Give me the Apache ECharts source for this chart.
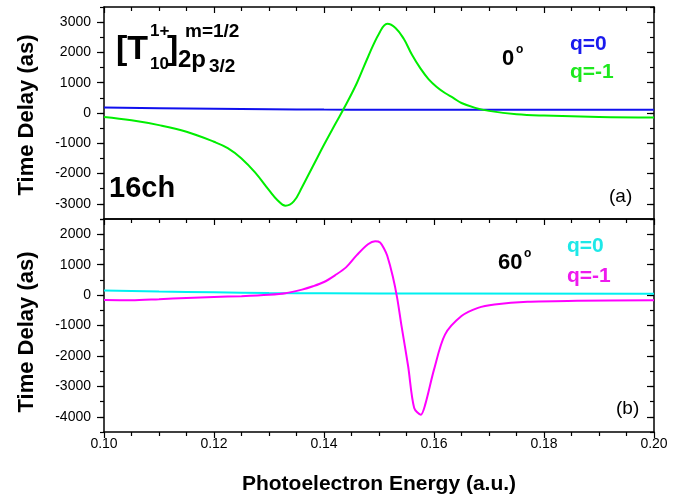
<!DOCTYPE html>
<html>
<head>
<meta charset="utf-8">
<script src="https://cdn.jsdelivr.net/npm/echarts@6/dist/echarts.min.js"></script>
<style>
  html, body { margin: 0; padding: 0; background: #fff; }
  #chart { width: 690px; height: 500px; }
</style>
</head>
<body>
<div id="chart"></div>
<script>
// ---- data ----
// (a) 0 deg panel
var q0TopX = [0.100, 0.110, 0.120, 0.130, 0.140, 0.150, 0.170, 0.200];
var q0TopY = [185, 160, 140, 125, 113, 110, 108, 105];
var qm1TopX = [0.100, 0.105, 0.110, 0.115, 0.120, 0.1225, 0.125, 0.1275, 0.130, 0.1315, 0.133, 0.1345, 0.136, 0.138, 0.140, 0.142, 0.144, 0.146, 0.148, 0.150, 0.1515, 0.153, 0.1545, 0.156, 0.1575, 0.159, 0.1605, 0.162, 0.1635, 0.165, 0.1675, 0.170, 0.175, 0.180, 0.190, 0.200];
var qm1TopY = [-130, -240, -400, -620, -950, -1160, -1500, -1970, -2550, -2870, -3060, -2920, -2450, -1750, -1050, -380, 280, 1000, 1850, 2620, 2944, 2810, 2450, 1920, 1480, 1120, 860, 661, 500, 330, 170, 70, -40, -85, -130, -145];
// (b) 60 deg panel
var q0BotX = [0.100, 0.110, 0.120, 0.130, 0.140, 0.160, 0.200];
var q0BotY = [150, 115, 90, 70, 60, 50, 45];
var qm1BotX = [0.100, 0.105, 0.110, 0.115, 0.120, 0.125, 0.130, 0.133, 0.136, 0.138, 0.140, 0.142, 0.144, 0.146, 0.148, 0.1493, 0.1502, 0.151, 0.1515, 0.1525, 0.1533, 0.1541, 0.1553, 0.1564, 0.1576, 0.1584, 0.160, 0.162, 0.165, 0.168, 0.171, 0.177, 0.186, 0.200];
var qm1BotY = [-165, -170, -135, -95, -65, -35, 10, 60, 180, 290, 430, 650, 910, 1320, 1670, 1770, 1730, 1500, 1290, 620, -90, -1020, -2340, -3710, -3930, -3600, -2450, -1300, -690, -420, -310, -220, -190, -170];
var topMajor = [-3000, -2000, -1000, 0, 1000, 2000, 3000];
var botMajor = [-4000, -3000, -2000, -1000, 0, 1000, 2000];

function pairs(xs, ys) {
	return xs.map(function (x, i) { return [x, ys[i]]; });
}

var FONT = 'Liberation Sans, Arial, sans-serif';
var lineStyleAxis = {color: '#000', width: 1.5};

function xAx(grid, pos, opts) {
	return Object.assign({
		type: 'value', gridIndex: grid, position: pos,
		min: 0.10, max: 0.20, interval: 0.02,
		axisLine: {show: true, onZero: false, lineStyle: lineStyleAxis},
		axisTick: {show: true, inside: true, length: 6, lineStyle: {color: '#000', width: 1.2}},
		minorTick: {show: true, splitNumber: 4, length: 4, lineStyle: {color: '#000', width: 1.2}},
		axisLabel: {show: false},
		splitLine: {show: false}
	}, opts);
}

function yAxes(grid, min, max, majors) {
	var base = {
		type: 'value', gridIndex: grid, min: min, max: max, interval: 500,
		splitLine: {show: false}
	};
	return [
		Object.assign({}, base, {
			position: 'left',
			axisLine: {show: true, onZero: false, lineStyle: lineStyleAxis},
			axisTick: {show: true, inside: false, length: 4, lineStyle: {color: '#000', width: 1.2}},
			axisLabel: {
				show: true, customValues: majors, margin: 13, color: '#000', fontSize: 14, fontFamily: FONT,
				formatter: function (v) { return String(v); }
			}
		}),
		Object.assign({}, base, {
			position: 'left',
			axisLine: {show: false},
			axisTick: {show: true, inside: false, length: 7, customValues: majors, lineStyle: {color: '#000', width: 1.2}},
			axisLabel: {show: false}
		}),
		Object.assign({}, base, {
			position: 'right',
			axisLine: {show: true, onZero: false, lineStyle: lineStyleAxis},
			axisTick: {show: true, inside: true, length: 4, lineStyle: {color: '#000', width: 1.2}},
			axisLabel: {show: false}
		}),
		Object.assign({}, base, {
			position: 'right',
			axisLine: {show: false},
			axisTick: {show: true, inside: true, length: 7, customValues: majors, lineStyle: {color: '#000', width: 1.2}},
			axisLabel: {show: false}
		})
	];
}

function txt(x, y, text, size, color, extra) {
	return Object.assign({
		type: 'text', x: x, y: y, z: 10,
		style: {
			text: text, fontSize: size, fontWeight: 'bold', fontFamily: FONT,
			fill: color || '#000', align: 'left', verticalAlign: 'middle'
		}
	}, extra || {});
}

function plain(x, y, text, size, rot, align) {
	return {
		type: 'text', x: x, y: y, z: 10, rotation: rot || 0,
		style: {
			text: text, fontSize: size, fontWeight: align ? 'bold' : 'normal', fontFamily: FONT,
			fill: '#000', align: align || 'left', verticalAlign: 'middle'
		}
	};
}

var chart = echarts.init(document.getElementById('chart'), null, {renderer: 'canvas'});

var option = {
	backgroundColor: '#fff',
	animation: false,
	grid: [
		{left: 104, top: 7, width: 550, height: 212},
		{left: 104, top: 219, width: 550, height: 213}
	],
	xAxis: [
		xAx(0, 'bottom', {axisTick: {show: false}, minorTick: {show: false}}),
		xAx(0, 'top', {}),
		xAx(1, 'bottom', {
			axisTick: {show: true, inside: false, length: 6, lineStyle: {color: '#000', width: 1.2}},
			minorTick: {show: true, splitNumber: 4, length: 4, lineStyle: {color: '#000', width: 1.2}},
			axisLabel: {
				show: true, margin: 5, color: '#000', fontSize: 14, fontFamily: FONT,
				formatter: function (v) { return v.toFixed(2); }
			}
		}),
		xAx(1, 'top', {})
	],
	yAxis: yAxes(0, -3500, 3500, topMajor).concat(yAxes(1, -4500, 2500, botMajor)),
	series: [
		{
			name: 'q=0 (0°)', type: 'line', xAxisIndex: 0, yAxisIndex: 0,
			data: pairs(q0TopX, q0TopY), showSymbol: false, smooth: true,
			lineStyle: {color: '#1010ee', width: 2}
		},
		{
			name: 'q=-1 (0°)', type: 'line', xAxisIndex: 0, yAxisIndex: 0,
			data: pairs(qm1TopX, qm1TopY), showSymbol: false, smooth: 0.4,
			lineStyle: {color: '#00ee00', width: 2}
		},
		{
			name: 'q=0 (60°)', type: 'line', xAxisIndex: 2, yAxisIndex: 4,
			data: pairs(q0BotX, q0BotY), showSymbol: false, smooth: true,
			lineStyle: {color: '#00f0f0', width: 2}
		},
		{
			name: 'q=-1 (60°)', type: 'line', xAxisIndex: 2, yAxisIndex: 4,
			data: pairs(qm1BotX, qm1BotY), showSymbol: false, smooth: 0.3,
			lineStyle: {color: '#ff00ff', width: 2}
		}
	],
	graphic: [
		// axis titles
		plain(27, 115, 'Time Delay (as)', 22, Math.PI / 2, 'center'),
		plain(27, 332, 'Time Delay (as)', 22, Math.PI / 2, 'center'),
		plain(379, 484, 'Photoelectron Energy (a.u.)', 21, 0, 'center'),
		// [T^{1+}_{10}]^{m=1/2}_{2p_{3/2}}
		txt(116, 50, '[T', 34),
		txt(150, 31, '1+', 17),
		txt(150, 64, '10', 17),
		txt(167, 50, ']', 34),
		txt(185, 32, 'm=1/2', 19),
		txt(178, 60, '2p', 24),
		txt(209, 67, '3/2', 19),
		txt(109, 189, '16ch', 29),
		// panel (a) labels
		txt(502, 59, '0', 22),
		txt(516, 50, 'o', 12),
		txt(570, 44, 'q=0', 21, '#1a1aee'),
		txt(570, 72, 'q=-1', 21, '#1ee81e'),
		plain(609, 197, '(a)', 19),
		// panel (b) labels
		txt(498, 263, '60', 22),
		txt(524, 254, 'o', 12),
		txt(567, 246, 'q=0', 21, '#1ee8e8'),
		txt(567, 276, 'q=-1', 21, '#ee1aee'),
		plain(616, 409, '(b)', 19)
	]
};

chart.setOption(option);
</script>
</body>
</html>
